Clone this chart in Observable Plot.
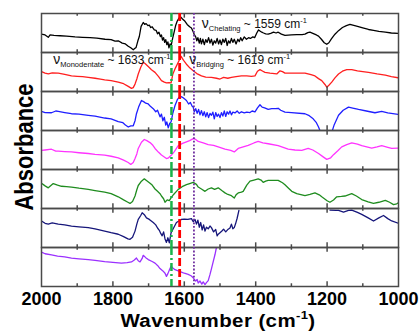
<!DOCTYPE html>
<html><head><meta charset="utf-8">
<script src="https://cdn.jsdelivr.net/npm/d3@7"></script>
<script src="https://cdn.jsdelivr.net/npm/@observablehq/plot@0.6"></script>
<style>body{margin:0;background:#fff}#chart svg{display:block}</style>
</head><body><div id="chart"></div>
<script>
// ---- data ----
const seriesNames = ["S1","S2","S3","S4","S5","S6","S7"];
const seriesColors = ["#000000","#ff1f1f","#1f1fff","#ff33ff","#1f8c1f","#16167a","#9b30ff"];

const s1 = [[2000,.47],[1990,.45],[1981,.39],[1976,.45],[1965,.44],[1948,.43],[1930,.42],[1906,.40],[1885,.39],[1864,.38],[1845,.37],[1822,.34],[1805,.33],[1794,.29],[1785,.30],[1774,.24],[1765,.22],[1757,.16],[1750,.12],[1743,.07],[1739,.10],[1735,.13],[1730,.30],[1726,.41],[1721,.67],[1715,.77],[1711,.72],[1707,.74],[1702,.69],[1698,.70],[1694,.64],[1690,.66],[1684,.58],[1679,.57],[1675,.48],[1671,.52],[1667,.41],[1664,.45],[1661,.32],[1658,.38],[1655,.26],[1652,.33],[1649,.20],[1646,.27],[1643,.12],[1640,.22],[1637,.17],[1633,.35],[1628,.54],[1624,.70],[1620,.80],[1615,.88],[1611,.92],[1605,.86],[1598,.80],[1592,.72],[1585,.66],[1580,.63],[1576,.55],[1572,.46],[1568,.40],[1565,.30],[1562,.38],[1558,.24],[1555,.36],[1552,.22],[1548,.34],[1544,.20],[1540,.33],[1536,.26],[1532,.38],[1528,.24],[1524,.34],[1520,.19],[1516,.30],[1512,.24],[1508,.36],[1504,.22],[1500,.32],[1496,.20],[1492,.34],[1488,.26],[1484,.36],[1480,.18],[1476,.30],[1472,.24],[1468,.36],[1464,.26],[1460,.34],[1455,.22],[1450,.34],[1446,.28],[1442,.38],[1438,.30],[1432,.40],[1426,.34],[1420,.38],[1415,.36],[1408,.40],[1403,.38],[1397,.50],[1392,.58],[1388,.55],[1383,.52],[1378,.50],[1372,.48],[1365,.47],[1358,.49],[1350,.52],[1343,.50],[1337,.52],[1328,.47],[1318,.44],[1300,.45],[1285,.46],[1270,.46],[1262,.47],[1254,.51],[1248,.52],[1240,.49],[1230,.45],[1224,.42],[1216,.34],[1208,.25],[1201,.21],[1195,.25],[1188,.35],[1178,.47],[1168,.56],[1157,.64],[1146,.69],[1136,.72],[1120,.68],[1100,.63],[1084,.59],[1070,.57],[1055,.54],[1037,.52],[1020,.50],[1000,.49]];

const s2 = [[2000,.51],[1990,.47],[1981,.45],[1970,.48],[1953,.47],[1935,.44],[1916,.40],[1900,.39],[1885,.38],[1869,.36],[1850,.34],[1835,.32],[1823,.30],[1805,.28],[1785,.24],[1770,.20],[1757,.13],[1748,.08],[1743,.10],[1738,.19],[1733,.32],[1729,.45],[1722,.62],[1715,.75],[1710,.72],[1701,.64],[1692,.56],[1682,.49],[1672,.38],[1664,.28],[1656,.24],[1650,.22],[1643,.23],[1637,.22],[1632,.45],[1625,.60],[1617,.75],[1609,.90],[1602,.80],[1594,.70],[1584,.60],[1575,.53],[1565,.46],[1552,.40],[1540,.37],[1524,.36],[1510,.34],[1500,.32],[1490,.36],[1478,.34],[1468,.36],[1455,.38],[1440,.40],[1425,.40],[1412,.39],[1402,.40],[1395,.52],[1388,.56],[1380,.52],[1374,.49],[1360,.47],[1341,.45],[1332,.53],[1325,.51],[1318,.47],[1300,.47],[1262,.47],[1245,.43],[1234,.40],[1224,.33],[1215,.28],[1206,.18],[1201,.11],[1195,.16],[1187,.24],[1178,.35],[1168,.45],[1157,.52],[1145,.56],[1131,.56],[1115,.53],[1100,.51],[1084,.49],[1060,.45],[1037,.42],[1020,.38],[1000,.35]];

const s3 = [[2000,.49],[1990,.46],[1972,.455],[1960,.50],[1953,.49],[1935,.46],[1916,.43],[1895,.42],[1869,.39],[1850,.37],[1823,.32],[1805,.30],[1785,.23],[1772,.20],[1765,.14],[1757,.09],[1750,.12],[1743,.12],[1738,.25],[1734,.43],[1728,.60],[1720,.77],[1714,.74],[1708,.70],[1701,.68],[1695,.62],[1687,.56],[1680,.48],[1675,.52],[1668,.35],[1664,.42],[1660,.25],[1656,.34],[1652,.14],[1649,.22],[1645,.07],[1641,.18],[1637,.22],[1632,.45],[1626,.64],[1619,.80],[1612,.88],[1605,.85],[1598,.80],[1594,.77],[1588,.68],[1583,.72],[1578,.62],[1575,.60],[1572,.48],[1568,.56],[1564,.44],[1560,.54],[1556,.40],[1552,.51],[1548,.38],[1544,.48],[1540,.35],[1536,.46],[1532,.33],[1528,.44],[1524,.39],[1520,.47],[1516,.30],[1512,.46],[1508,.36],[1504,.42],[1500,.33],[1496,.46],[1492,.37],[1488,.50],[1484,.36],[1480,.48],[1476,.42],[1472,.50],[1468,.40],[1464,.47],[1458,.45],[1452,.50],[1446,.44],[1440,.48],[1432,.45],[1425,.47],[1416,.46],[1410,.50],[1402,.48],[1395,.58],[1388,.66],[1382,.60],[1375,.58],[1365,.54],[1355,.56],[1345,.56],[1337,.57],[1330,.52],[1318,.47],[1300,.46],[1262,.43],[1250,.38],[1239,.30],[1230,.20],[1224,.09],[1218,-.05],[1210,-.4],[1200,-.6],[1192,-.4],[1187,-.05],[1180,.15],[1168,.39],[1155,.52],[1140,.60],[1125,.57],[1112,.54],[1090,.50],[1066,.455],[1047,.49],[1030,.45],[1000,.41]];

const s4 = [[2000,.49],[1990,.50],[1972,.52],[1960,.47],[1953,.47],[1935,.46],[1916,.45],[1895,.43],[1869,.41],[1850,.39],[1823,.37],[1805,.34],[1785,.30],[1770,.24],[1757,.18],[1750,.13],[1743,.18],[1738,.28],[1733,.40],[1729,.54],[1720,.70],[1712,.77],[1705,.74],[1696,.69],[1688,.62],[1682,.54],[1672,.44],[1664,.37],[1656,.32],[1650,.28],[1644,.30],[1636,.37],[1628,.46],[1617,.61],[1605,.67],[1594,.71],[1585,.74],[1575,.79],[1568,.77],[1561,.72],[1547,.68],[1533,.64],[1518,.62],[1505,.58],[1486,.52],[1470,.49],[1460,.45],[1449,.54],[1435,.58],[1421,.62],[1405,.68],[1393,.72],[1380,.68],[1365,.66],[1337,.61],[1309,.52],[1290,.50],[1271,.49],[1253,.54],[1240,.50],[1224,.41],[1212,.33],[1201,.26],[1190,.30],[1182,.38],[1170,.48],[1159,.58],[1145,.64],[1131,.68],[1115,.65],[1103,.61],[1075,.55],[1060,.58],[1047,.61],[1030,.57],[1019,.54],[1000,.55]];

const s5 = [[2000,.65],[1990,.58],[1981,.53],[1972,.60],[1967,.64],[1955,.60],[1944,.57],[1930,.56],[1916,.55],[1895,.52],[1869,.49],[1850,.46],[1823,.42],[1805,.38],[1785,.30],[1770,.22],[1758,.16],[1752,.13],[1745,.18],[1738,.32],[1733,.48],[1729,.59],[1720,.70],[1712,.76],[1706,.72],[1696,.65],[1690,.60],[1682,.50],[1675,.44],[1668,.38],[1664,.32],[1658,.25],[1654,.16],[1648,.22],[1642,.20],[1637,.27],[1630,.36],[1622,.44],[1617,.49],[1606,.56],[1594,.61],[1585,.64],[1575,.67],[1566,.62],[1561,.55],[1552,.50],[1542,.44],[1533,.50],[1524,.53],[1515,.49],[1505,.53],[1495,.46],[1486,.40],[1478,.36],[1468,.33],[1460,.27],[1455,.35],[1449,.40],[1440,.42],[1435,.44],[1425,.60],[1416,.70],[1405,.73],[1393,.76],[1385,.73],[1379,.67],[1372,.70],[1365,.72],[1350,.72],[1337,.72],[1325,.66],[1318,.61],[1308,.52],[1299,.44],[1285,.38],[1262,.33],[1248,.36],[1234,.40],[1222,.35],[1215,.30],[1200,.20],[1192,.16],[1182,.22],[1173,.30],[1160,.31],[1150,.32],[1131,.38],[1118,.32],[1103,.23],[1085,.17],[1070,.13],[1055,.16],[1037,.21],[1025,.16],[1014,.10],[1005,.12],[1000,.15]];

const s6 = [[2000,.68],[1990,.62],[1981,.60],[1970,.63],[1953,.60],[1935,.58],[1916,.55],[1895,.53],[1869,.51],[1850,.48],[1823,.42],[1805,.38],[1785,.34],[1770,.28],[1758,.22],[1752,.21],[1745,.26],[1738,.42],[1733,.60],[1729,.72],[1722,.82],[1718,.89],[1712,.84],[1706,.76],[1698,.72],[1687,.64],[1680,.58],[1675,.50],[1670,.44],[1666,.36],[1662,.30],[1658,.40],[1654,.22],[1650,.13],[1646,.25],[1642,.12],[1637,.38],[1630,.50],[1622,.64],[1615,.68],[1608,.72],[1600,.73],[1590,.72],[1580,.74],[1575,.66],[1570,.72],[1566,.60],[1562,.70],[1558,.52],[1554,.64],[1550,.45],[1546,.58],[1542,.42],[1538,.52],[1533,.48],[1528,.55],[1524,.51],[1518,.40],[1512,.46],[1508,.30],[1505,.34],[1500,.38],[1494,.43],[1490,.47],[1484,.40],[1477,.47],[1472,.50],[1468,.60],[1464,.48],[1460,.51],[1456,.62],[1452,.75],[1447,.95],[1440,NaN],[1192,.96],[1175,.95],[1168,.95],[1154,.91],[1140,.95],[1131,.96],[1115,.90],[1103,.85],[1085,.76],[1070,.68],[1055,.76],[1042,.82],[1030,.74],[1019,.68],[1000,.62]];

const s7 = [[2000,.88],[1990,.84],[1972,.81],[1955,.78],[1935,.76],[1916,.73],[1895,.71],[1869,.69],[1850,.67],[1823,.64],[1800,.62],[1776,.60],[1760,.61],[1748,.63],[1740,.68],[1734,.73],[1729,.66],[1724,.63],[1718,.72],[1715,.80],[1708,.74],[1701,.69],[1690,.64],[1682,.60],[1675,.54],[1668,.46],[1660,.40],[1654,.34],[1650,.26],[1646,.33],[1642,.42],[1637,.52],[1633,.48],[1626,.43],[1617,.40],[1608,.37],[1600,.34],[1589,.31],[1580,.27],[1575,.22],[1568,.14],[1564,.18],[1561,.09],[1556,.14],[1551,.06],[1547,.12],[1542,.05],[1538,.10],[1533,.15],[1528,.31],[1524,.45],[1519,.64],[1514,.82],[1510,1.0]];

const allSeries = [s1, s2, s3, s4, s5, s6, s7];

const xTickLabels = [2000, 1800, 1600, 1400, 1200, 1000];
const xTicksMajor = [1800, 1600, 1400, 1200];
const xTicksMinor = [1900, 1700, 1500, 1300, 1100];

const monodentateWn = [1636];
const bridgingWn = [1613];
const chelatingWn = [1573];

const annoSeries = ["S1", "S2", "S2"];
const annoWn = [1551, 1967, 1586];
const annoA = [0.64, 0.70, 0.695];
const annoSub = ["Chelating", "Monodentate", "Bridging"];
const annoMain = ["~ 1559 cm", "~ 1633 cm", "~ 1619 cm"];
const annoSup = ["-1", "-1", "-1"];

// ---- build ----
const flat = seriesNames.flatMap((n, i) => allSeries[i].map(([wn, a]) => ({series: n, wn, a})));
const annos = annoSeries.map((s, i) => ({series: s, wn: annoWn[i], a: annoA[i], label: `ν|${annoSub[i]}|${annoMain[i]}|${annoSup[i]}`}));

const axisColor = "#4a4a4a";
const plot = Plot.plot({
  width: 419, height: 331,
  marginLeft: 41, marginRight: 21, marginTop: 12, marginBottom: 44,
  style: {fontFamily: "'Liberation Sans', Arial, sans-serif", background: "#fff", color: "#000"},
  x: {domain: [2000, 1000]},
  y: {domain: [0, 1], axis: null},
  fy: {domain: seriesNames, padding: 0, axis: null},
  color: {domain: seriesNames, range: seriesColors},
  marks: [
    Plot.line(flat, {x: "wn", y: "a", fy: "series", stroke: "series", strokeWidth: 1.3, clip: true}),
    Plot.ruleX(xTicksMajor, {y1: 0, y2: 0.12, stroke: axisColor, strokeWidth: 1.5}),
    Plot.ruleX(xTicksMajor, {y1: 0.88, y2: 1, stroke: axisColor, strokeWidth: 1.5}),
    Plot.ruleX(xTicksMinor, {y1: 0, y2: 0.07, stroke: axisColor, strokeWidth: 1.5}),
    Plot.ruleX(xTicksMinor, {y1: 0.93, y2: 1, stroke: axisColor, strokeWidth: 1.5}),
    Plot.frame({stroke: axisColor, strokeWidth: 1.5}),
    Plot.ruleX(monodentateWn, {stroke: "#19b34a", strokeWidth: 2.5, strokeDasharray: "8,3,2,3"}),
    Plot.ruleX(bridgingWn, {stroke: "#ff0000", strokeWidth: 2.8, strokeDasharray: "8,3"}),
    Plot.ruleX(chelatingWn, {stroke: "#7030a0", strokeWidth: 1.8, strokeDasharray: "1.8,1.8"}),
    Plot.text(annos, {x: "wn", y: "a", fy: "series", text: "label", textAnchor: "start", lineAnchor: "bottom", fontSize: 12, fill: "#111"}),
    Plot.axisX(xTickLabels, {tickSize: 0, tickPadding: 6, fontSize: 18, fontWeight: "bold", label: null, tickFormat: d => String(d)})
  ]
});

const svg = d3.select(plot);
svg.selectAll("text").each(function() {
  const t = this.textContent;
  if (!t.includes("|")) return;
  const [g, sub, main, sup] = t.split("|");
  const el = d3.select(this);
  el.text(null);
  el.append("tspan").attr("font-size", 14).text(g);
  el.append("tspan").attr("font-size", 7.5).attr("dy", 3).text(sub);
  el.append("tspan").attr("font-size", 12).attr("dy", -3).text(" " + main);
  el.append("tspan").attr("font-size", 7.5).attr("dy", -5).text(sup);
});

svg.append("text")
  .attr("transform", "translate(33,147) scale(1,0.88) rotate(-90)")
  .attr("text-anchor", "middle")
  .attr("font-size", 25).attr("font-weight", "bold").attr("fill", "#000")
  .text("Absorbance");

const xl = svg.append("text")
  .attr("transform", "translate(218,327) scale(1,0.87)")
  .attr("text-anchor", "middle")
  .attr("font-size", 20.5).attr("font-weight", "bold").attr("fill", "#000")
  .attr("letter-spacing", 0.4);
xl.append("tspan").text("Wavenumber (cm");
xl.append("tspan").attr("font-size", 13).attr("dy", -9).text("-1");
xl.append("tspan").attr("dy", 9).text(")");

document.getElementById("chart").appendChild(plot);
</script>
</body></html>
